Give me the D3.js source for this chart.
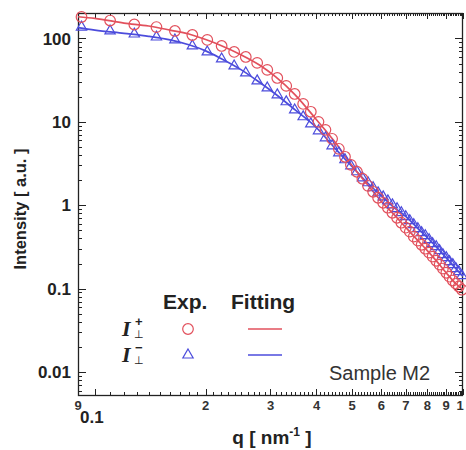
<!DOCTYPE html>
<html>
<head>
<meta charset="utf-8">
<script src="https://cdn.jsdelivr.net/npm/d3@7"></script>
<style>
  body { margin: 0; background: #fff; }
  svg { display: block; }
</style>
</head>
<body>
<div class="canvas"></div>
<script>
// experimental points, q in nm^-1
const qExp = [0.092, 0.110, 0.128, 0.147, 0.165, 0.184, 0.202, 0.221, 0.239, 0.257,
  0.276, 0.294, 0.313, 0.331, 0.349, 0.368, 0.386, 0.405, 0.423, 0.441,
  0.460, 0.478, 0.496, 0.515, 0.533, 0.552, 0.570, 0.588, 0.607, 0.625,
  0.643, 0.662, 0.680, 0.699, 0.717, 0.735, 0.754, 0.772, 0.790, 0.809,
  0.827, 0.846, 0.864, 0.882, 0.901, 0.919, 0.938, 0.956, 0.974, 0.993];
const iPlusExp = [181, 164, 147, 137, 123, 110, 96, 81.3, 68.9, 60.0,
  50.9, 42.0, 33.6, 27.0, 21.6, 16.4, 13.2, 10.0, 8.02, 6.26,
  4.75, 3.81, 3.05, 2.52, 2.08, 1.71, 1.45, 1.23, 1.07, 0.934,
  0.813, 0.708, 0.617, 0.538, 0.482, 0.420, 0.376, 0.336, 0.301, 0.270,
  0.242, 0.216, 0.194, 0.174, 0.155, 0.139, 0.125, 0.115, 0.106, 0.097];
const iMinusExp = [137, 123, 113, 104, 95.9, 81.3, 68.9, 56.8, 46.9, 38.6,
  31.0, 25.5, 21.1, 17.4, 13.9, 11.5, 9.46, 7.80, 6.43, 5.16,
  4.25, 3.51, 2.97, 2.52, 2.13, 1.86, 1.62, 1.41, 1.26, 1.13,
  1.01, 0.908, 0.813, 0.729, 0.652, 0.584, 0.523, 0.469, 0.431, 0.386,
  0.346, 0.318, 0.285, 0.255, 0.235, 0.211, 0.194, 0.174, 0.160, 0.143];

// fitted curves
const qFit = [0.09, 0.10, 0.12, 0.14, 0.16, 0.18, 0.20, 0.22, 0.25, 0.28, 0.31, 0.35, 0.40,
  0.45, 0.50, 0.55, 0.60, 0.65, 0.70, 0.75, 0.80, 0.85, 0.90, 0.95, 1.0];
const iPlusFit = [182, 174, 153, 141, 126, 113, 97, 82.5, 63.5, 48.1, 34.6, 21.1, 10.6,
  5.64, 2.97, 1.77, 1.11, 0.77, 0.538, 0.387, 0.286, 0.211, 0.155, 0.118, 0.097];
const iMinusFit = [135, 126, 115, 106, 96, 84, 71, 57.6, 42, 29.8, 21.4, 13.9, 8.5,
  4.77, 2.9, 1.86, 1.30, 0.94, 0.73, 0.54, 0.41, 0.31, 0.235, 0.18, 0.14];

// axis ticks
const yTickValues = [100, 10, 1, 0.1, 0.01];
const yTickLabels = ['100', '10', '1', '0.1', '0.01'];
const xTickValues = [0.09, 0.2, 0.3, 0.4, 0.5, 0.6, 0.7, 0.8, 0.9, 1];
const xTickLabels = ['9', '2', '3', '4', '5', '6', '7', '8', '9', '1'];

const red = '#e2505c';
const blue = '#4c4cdc';
const font = '"Liberation Sans", Arial, Helvetica, sans-serif';

const width = 466, height = 450;
const margin = { top: 13, right: 3, bottom: 55, left: 78 };

const svg = d3.select('.canvas')
  .append('svg')
  .attr('width', width)
  .attr('height', height)
  .style('font-family', font);

const x = d3.scaleLog()
  .domain([0.09, 1])
  .range([margin.left, width - margin.right]);

const y = d3.scaleLog()
  .domain([0.0053, 202])
  .range([height - margin.bottom, margin.top]);

const [x0, x1] = x.range();
const [yb, yt] = y.range();

// minor / major ticks, all pointing inward
const xMinor = d3.range(9, 101).map(d => d / 100);
const yMinor = [];
[0.001, 0.01, 0.1, 1, 10, 100].forEach(dec => {
  for (let k = 1; k <= 9; k++) {
    const v = dec * k;
    if (v >= y.domain()[0] && v <= y.domain()[1]) yMinor.push(v);
  }
});

const ticks = svg.append('g').attr('stroke', '#222').attr('stroke-width', 1);

xMinor.forEach(v => {
  const major = Math.abs(v * 10 - Math.round(v * 10)) < 1e-6;
  const len = major ? 6 : 3;
  const px = Math.round(x(v)) + 0.5;
  ticks.append('line').attr('x1', px).attr('x2', px).attr('y1', yb).attr('y2', yb - len);
  ticks.append('line').attr('x1', px).attr('x2', px).attr('y1', yt).attr('y2', yt + len);
});

yMinor.forEach(v => {
  const major = yTickValues.includes(v);
  const len = major ? 8 : 4;
  const py = Math.round(y(v)) + 0.5;
  ticks.append('line').attr('x1', x0).attr('x2', x0 + len).attr('y1', py).attr('y2', py);
  ticks.append('line').attr('x1', x1).attr('x2', x1 - len).attr('y1', py).attr('y2', py);
});

// frame
svg.append('rect')
  .attr('x', x0 + 0.5)
  .attr('y', yt + 0.5)
  .attr('width', x1 - x0 - 1)
  .attr('height', yb - yt)
  .attr('fill', 'none')
  .attr('stroke', '#222')
  .attr('stroke-width', 1.3);

// y tick labels
svg.append('g').selectAll('text')
  .data(yTickValues)
  .enter()
  .append('text')
  .attr('x', 71)
  .attr('y', d => y(d))
  .attr('dy', '0.36em')
  .attr('text-anchor', 'end')
  .attr('font-size', 17)
  .attr('font-weight', 'bold')
  .attr('fill', '#222')
  .text((d, i) => yTickLabels[i]);

// x tick labels
svg.append('g').selectAll('text')
  .data(xTickValues)
  .enter()
  .append('text')
  .attr('x', d => x(d) - (d === 1 ? 3 : 0))
  .attr('y', yb + 15)
  .attr('text-anchor', 'middle')
  .attr('font-size', 13)
  .attr('font-weight', 'bold')
  .attr('fill', '#333')
  .text((d, i) => xTickLabels[i]);

svg.append('text')
  .attr('x', x(0.1) - 3)
  .attr('y', yb + 28)
  .attr('text-anchor', 'middle')
  .attr('font-size', 17)
  .attr('font-weight', 'bold')
  .attr('fill', '#222')
  .text('0.1');

// axis titles
const xTitle = svg.append('text')
  .attr('x', 272)
  .attr('y', 444)
  .attr('text-anchor', 'middle')
  .attr('font-size', 19)
  .attr('font-weight', 'bold')
  .attr('fill', '#222');
xTitle.append('tspan').text('q [ nm');
xTitle.append('tspan').attr('dy', -8).attr('font-size', 12).text('-1');
xTitle.append('tspan').attr('dy', 8).text(' ]');

svg.append('text')
  .attr('transform', 'translate(26,209) rotate(-90)')
  .attr('text-anchor', 'middle')
  .attr('font-size', 16.5)
  .attr('font-weight', 'bold')
  .attr('fill', '#222')
  .text('Intensity [ a.u. ]');

// fitted lines
const fitLine = vals => d3.line()
  .x((d, i) => x(qFit[i]))
  .y(d => y(d))
  .curve(d3.curveMonotoneX)(vals);

const plot = svg.append('g');

plot.append('path')
  .attr('d', fitLine(iMinusFit))
  .attr('fill', 'none')
  .attr('stroke', blue)
  .attr('stroke-width', 1.7);

plot.append('path')
  .attr('d', fitLine(iPlusFit))
  .attr('fill', 'none')
  .attr('stroke', red)
  .attr('stroke-width', 1.7);

// experimental markers
const tri = d3.symbol().type(d3.symbolTriangle).size(46);

plot.append('g').selectAll('path')
  .data(iMinusExp)
  .enter()
  .append('path')
  .attr('d', tri)
  .attr('transform', (d, i) => `translate(${x(qExp[i])},${y(d)})`)
  .attr('fill', 'none')
  .attr('stroke', blue)
  .attr('stroke-width', 1.2);

plot.append('g').selectAll('circle')
  .data(iPlusExp)
  .enter()
  .append('circle')
  .attr('cx', (d, i) => x(qExp[i]))
  .attr('cy', d => y(d))
  .attr('r', 5.3)
  .attr('fill', 'none')
  .attr('stroke', red)
  .attr('stroke-width', 1.2);

// legend
const legend = svg.append('g').attr('fill', '#222');

legend.append('text')
  .attr('x', 163).attr('y', 309)
  .attr('font-size', 21).attr('font-weight', 'bold')
  .text('Exp.');
legend.append('text')
  .attr('x', 231).attr('y', 309)
  .attr('font-size', 21).attr('font-weight', 'bold')
  .text('Fitting');

const entries = [
  { sign: '+', color: red, yPos: 329 },
  { sign: '\u2212', color: blue, yPos: 355 }
];

entries.forEach((e, k) => {
  const g = legend.append('g');
  g.append('text')
    .attr('x', 122).attr('y', e.yPos + 7)
    .attr('font-family', '"Liberation Serif", "Times New Roman", serif')
    .attr('font-size', 22).attr('font-style', 'italic').attr('font-weight', 'bold')
    .text('I');
  g.append('text')
    .attr('x', 135).attr('y', e.yPos - 3)
    .attr('font-size', 13).attr('font-weight', 'bold')
    .text(e.sign);
  g.append('text')
    .attr('x', 134).attr('y', e.yPos + 9)
    .attr('font-family', '"DejaVu Sans", sans-serif')
    .attr('font-size', 11)
    .text('\u22A5');
  if (k === 0) {
    g.append('circle')
      .attr('cx', 188).attr('cy', e.yPos).attr('r', 5.3)
      .attr('fill', 'none').attr('stroke', e.color).attr('stroke-width', 1.2);
  } else {
    g.append('path')
      .attr('d', tri)
      .attr('transform', `translate(188,${e.yPos})`)
      .attr('fill', 'none').attr('stroke', e.color).attr('stroke-width', 1.2);
  }
  g.append('line')
    .attr('x1', 248).attr('x2', 282)
    .attr('y1', e.yPos).attr('y2', e.yPos)
    .attr('stroke', e.color).attr('stroke-width', 1.7);
});

svg.append('text')
  .attr('x', 329).attr('y', 380)
  .attr('font-size', 20)
  .attr('fill', '#333')
  .text('Sample M2');
</script>
</body>
</html>
